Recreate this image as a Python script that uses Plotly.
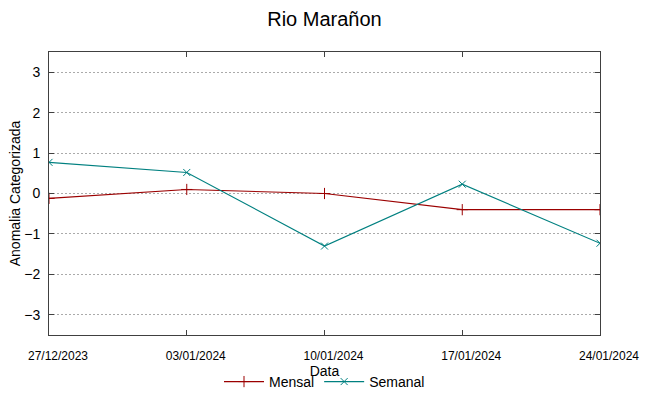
import plotly.graph_objects as go

dates = ["2023-12-27", "2024-01-03", "2024-01-10", "2024-01-17", "2024-01-24"]
mensal = [-0.12, 0.1, 0.0, -0.4, -0.4]
semanal = [0.77, 0.52, -1.3, 0.23, -1.23]
tick_vals = dates
tick_text = ["27/12/2023", "03/01/2024", "10/01/2024", "17/01/2024", "24/01/2024"]
y_ticks = [-3, -2, -1, 0, 1, 2, 3]

fig = go.Figure()
fig.add_trace(go.Scatter(x=dates, y=mensal, name="Mensal", mode="lines+markers",
                         line=dict(color="#9b0000", width=1.1),
                         marker=dict(symbol="cross-thin", size=8, line=dict(color="#9b0000", width=1))))
fig.add_trace(go.Scatter(x=dates, y=semanal, name="Semanal", mode="lines+markers",
                         line=dict(color="#008080", width=1.1),
                         marker=dict(symbol="x-thin", size=7, line=dict(color="#008080", width=1))))

fig.update_layout(
    width=649, height=396,
    paper_bgcolor="white", plot_bgcolor="white",
    margin=dict(l=49, r=49, t=52, b=61, autoexpand=False),
    title=dict(text="Rio Marañon", x=0.5, xanchor="center", y=0.952, yanchor="middle",
               font=dict(family="Liberation Sans, Arial", size=20, color="black")),
    font=dict(family="Liberation Sans, Arial", color="black"),
    showlegend=True,
    legend=dict(orientation="h", x=0.5, xanchor="center", y=-0.166, yanchor="middle",
                font=dict(family="Liberation Sans Narrow, Liberation Sans", size=14),
                bgcolor="rgba(0,0,0,0)", itemwidth=40, tracegroupgap=0),
    xaxis=dict(
        type="date", range=["2023-12-27", "2024-01-24"],
        tickvals=tick_vals, ticktext=tick_text,
        showgrid=False, zeroline=False, automargin=False,
        showline=True, linecolor="#404040", linewidth=1, mirror="ticks",
        ticks="inside", ticklen=5, tickcolor="#404040",
        ticklabelstandoff=10, ticklabelshift=9,
        tickfont=dict(family="Liberation Sans Narrow, Liberation Sans", size=12),
        title=dict(text="Data", standoff=0,
                   font=dict(family="Liberation Sans Narrow, Liberation Sans", size=14)),
    ),
    yaxis=dict(
        range=[-3.5, 3.5], tickvals=y_ticks,
        showgrid=True, gridcolor="#aaaaaa", griddash="2px,2px", gridwidth=1,
        zeroline=False, automargin=False,
        showline=True, linecolor="#404040", linewidth=1, mirror="ticks",
        ticks="inside", ticklen=5, tickcolor="#404040",
        ticklabelstandoff=5,
        tickfont=dict(size=14),
        title=dict(text="Anomalia Categorizada", font=dict(size=14), standoff=0),
    ),
)

fig.write_html("out.html", config={"displayModeBar": False},
               post_script="document.body.style.margin='0';")
